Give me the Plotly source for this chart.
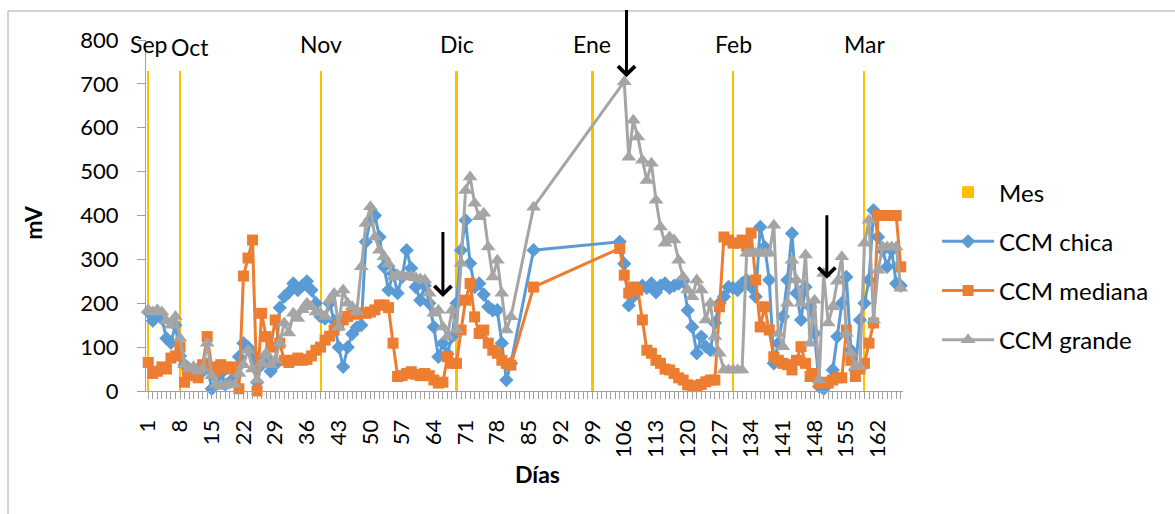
import plotly.graph_objects as go

# Día de muestreo (categorías del eje X); sin lecturas entre los días 82-85 y 87-104
dias = list(range(1, 82)) + [86] + list(range(105, 168))

ccm_chica = [
    180, 160, 175, 165, 120, 110, 150, 80, 60, 50,
    45, 50, 45, 60, 5, 30, 40, 15, 20, 30,
    78, 109, 100, 85, 20, 60, 75, 45, 60, 190,
    215, 225, 245, 230, 240, 250, 230, 200, 170, 165,
    200, 160, 100, 55, 100, 130, 145, 150, 340, 390,
    400, 351, 283, 230, 268, 223, 260, 321, 280, 237,
    207, 240, 200, 146, 78, 109, 85, 124, 200, 321,
    389, 291, 237, 245, 220, 192, 184, 184, 109, 25, 63,
    321,
    340, 290, 195, 215, 230, 240, 235, 245, 225, 240,
    245, 235, 240, 245, 250, 184, 146, 86, 124, 101,
    93, 155, 200, 215, 237, 235, 230, 245, 253, 237,
    215, 374, 328, 253, 63, 109, 170, 253, 359, 223,
    162, 237, 192, 131, 10, 5, 20, 48, 124, 200,
    260, 93, 48, 162, 200, 253, 412, 351, 321, 283, 321, 245, 240,
]

ccm_mediana = [
    65, 40, 45, 55, 50, 75, 80, 100, 20, 40,
    35, 30, 60, 124, 55, 45, 60, 55, 50, 55,
    5, 262, 303, 344, 0, 177, 124, 100, 162, 109,
    70, 65, 70, 75, 70, 72, 80, 93, 100, 116,
    125, 139, 150, 162, 170, 177, 175, 178, 177, 180,
    185, 196, 196, 190, 109, 33, 35, 40, 44, 38,
    35, 40, 35, 25, 18, 20, 78, 63, 63, 139,
    207, 245, 169, 131, 139, 109, 93, 86, 70, 63, 59,
    237,
    325, 264, 223, 237, 230, 162, 93, 86, 70, 63,
    50, 48, 40, 30, 25, 14, 12, 10, 15, 21,
    25, 25, 192, 351, 344, 337, 337, 344, 330, 360,
    253, 146, 192, 139, 78, 70, 63, 60, 48, 70,
    101, 63, 33, 40, 18, 20, 18, 25, 30, 30,
    139, 70, 33, 50, 63, 109, 155, 400, 400, 400, 400, 400, 283,
]

ccm_grande = [
    185, 180, 185, 180, 160, 150, 170, 120, 60, 50,
    55, 45, 50, 109, 35, 15, 10, 15, 15, 15,
    40, 60, 93, 50, 25, 63, 86, 60, 70, 109,
    155, 132, 177, 165, 185, 200, 192, 180, 177, 170,
    207, 222, 146, 230, 200, 192, 180, 283, 382, 420,
    351, 321, 306, 290, 260, 265, 262, 260, 262, 258,
    255, 253, 223, 177, 184, 146, 124, 184, 139, 291,
    457, 488, 428, 397, 405, 328, 260, 298, 223, 139, 169,
    419,
    None, 705, 533, 617, 579, 526, 480, 519, 435, 374,
    337, 351, 344, 298, 260, 230, 215, 253, 230, 162,
    200, 124, 86, 48, 48, 48, 48, 48, 314, 314,
    314, 314, 314, 314, 378, 131, 101, 200, 298, 253,
    200, 310, 109, 207, 25, 268, 155, 192, 250, 306,
    131, 86, 55, 55, 337, 389, 162, 275, 328, 328, 328, 328, 234,
]

# Inicio de cada mes (serie "Mes")
mes_dia = [1, 8, 39, 69, 99, 130, 159]
mes_valor = [730, 730, 730, 730, 730, 730, 730]
mes_nombre = ["Sep", "Oct", "Nov", "Dic", "Ene", "Feb", "Mar"]

# Eventos señalados con flecha: día, valor de la punta, valor de la cola
flecha_dia = [66, 106.5, 150.7]
flecha_punta = [214, 715, 256]
flecha_cola = [366, 872, 404]

ticks_dias = list(range(1, 168, 7))

FONT = "Lato"
AZUL, NARANJA, GRIS, AMARILLO = "#5B9BD5", "#ED7D31", "#A5A5A5", "#FFC000"
EJE = "#A0A0A0"

fig = go.Figure()

fig.add_trace(go.Bar(
    x=mes_dia, y=mes_valor, name="Mes", width=0.45,
    marker=dict(color=AMARILLO, line=dict(width=0)),
    legendgroup="a",
))

for nombre, valores, color, simbolo, tam, grupo in [
    ("CCM chica", ccm_chica, AZUL, "diamond", 11, "b"),
    ("CCM mediana", ccm_mediana, NARANJA, "square", 11, "c"),
    ("CCM grande", ccm_grande, GRIS, "triangle-up", 13, "d"),
]:
    fig.add_trace(go.Scatter(
        x=dias, y=valores, name=nombre, mode="lines+markers",
        connectgaps=True, cliponaxis=False,
        line=dict(color=color, width=3),
        marker=dict(symbol=simbolo, size=tam, color=color),
        legendgroup=grupo,
    ))

anotaciones = []
for d, v, n in zip(mes_dia, mes_valor, mes_nombre):
    dx, dy = (10, 24) if n == "Oct" else (0, 27)
    anotaciones.append(dict(
        x=d, y=v, xref="x", yref="y", text=n, showarrow=False,
        xanchor="center", yanchor="middle", xshift=dx, yshift=dy,
        font=dict(family=FONT, size=23, color="black"),
    ))

for d, p, c in zip(flecha_dia, flecha_punta, flecha_cola):
    anotaciones.append(dict(
        x=d, y=p, ax=d, ay=c, xref="x", yref="y", axref="x", ayref="y",
        text="", showarrow=True, arrowhead=4, arrowsize=1.1, arrowwidth=3,
        arrowcolor="black", standoff=0,
    ))

anotaciones.append(dict(
    x=0.517, y=-0.236, xref="paper", yref="paper", text="<b>Días</b>",
    showarrow=False, xanchor="center", yanchor="middle",
    font=dict(family=FONT, size=23, color="black"),
))
anotaciones.append(dict(
    x=-0.1485, y=0.481, xref="paper", yref="paper", text="<b>mV</b>",
    showarrow=False, textangle=-90, xanchor="center", yanchor="middle",
    font=dict(family=FONT, size=23, color="black"),
))

fig.update_layout(
    width=1175, height=514,
    margin=dict(l=146, r=272, t=40, b=123),
    paper_bgcolor="white", plot_bgcolor="white",
    font=dict(family=FONT, size=22, color="black"),
    showlegend=True,
    legend=dict(
        x=1.045, y=0.356, xanchor="left", yanchor="middle",
        traceorder="grouped", tracegroupgap=15, itemwidth=52,
        font=dict(family=FONT, size=24, color="black"),
        bgcolor="rgba(0,0,0,0)",
    ),
    annotations=anotaciones,
    shapes=[dict(
        type="rect", xref="paper", yref="paper",
        x0=(8 - 146) / 757, x1=(1185 - 146) / 757,
        y0=(391 - 525) / 351, y1=(391 - 11) / 351,
        line=dict(color="#A6A6A6", width=1), fillcolor="rgba(0,0,0,0)",
        layer="below",
    )],
    bargap=0,
)

fig.update_xaxes(
    range=[0.5, 167.5], tickmode="array", tickvals=ticks_dias,
    ticktext=[str(t) for t in ticks_dias], tickangle=-90,
    showline=True, linecolor=EJE, linewidth=1,
    ticks="outside", ticklen=7, tickcolor=EJE, ticklabelstandoff=12,
    minor=dict(ticks="outside", ticklen=7, tickcolor=EJE, tick0=1, dtick=1),
    showgrid=False, zeroline=False,
    tickfont=dict(family=FONT, size=22, color="black"),
)
fig.update_yaxes(
    range=[0, 800], dtick=100, tick0=0,
    showline=True, linecolor=EJE, linewidth=1,
    ticks="outside", ticklen=8, tickcolor=EJE, ticklabelstandoff=14,
    showgrid=False, zeroline=False,
    tickfont=dict(family=FONT, size=22, color="black"),
)

fig.write_html("out.html")
